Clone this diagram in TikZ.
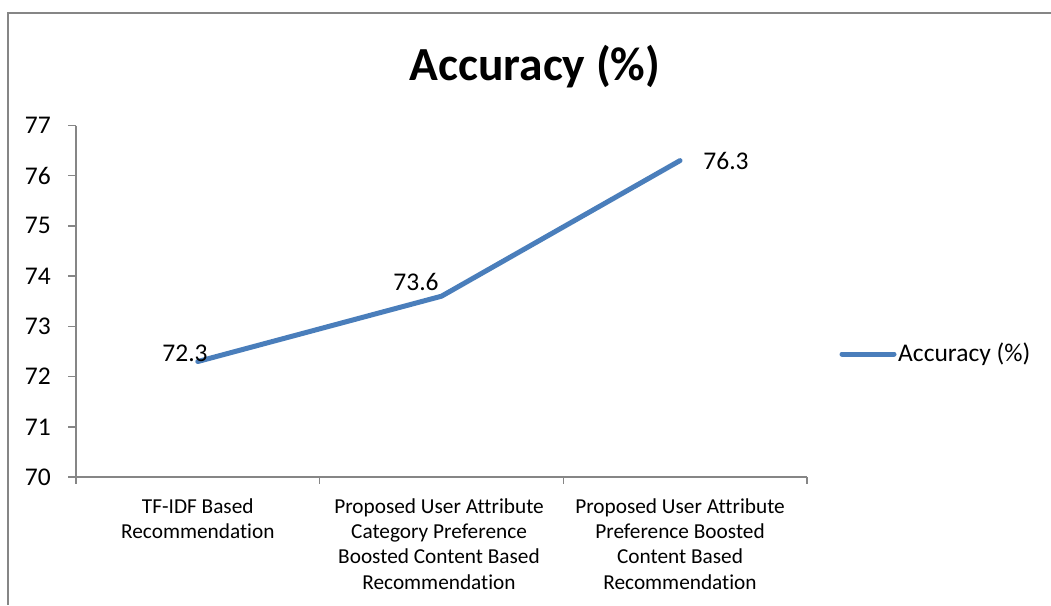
\documentclass[tikz,border=0pt]{standalone}
\usepackage{fontspec}
\setmainfont{Carlito}[Ligatures=NoCommon]
\usetikzlibrary{arrows,shapes}
\definecolor{acccolor}{HTML}{4A7EBB}
\definecolor{axisgray}{HTML}{868686}
\tikzstyle{frame}=[draw,axisgray,line width=2pt]
\tikzstyle{axis}=[draw,axisgray,line width=1.5pt]
\tikzstyle{curve}=[draw,acccolor,line width=5pt,line cap=round,line join=round]
\tikzstyle{ticklabel}=[anchor=east,inner sep=0pt,font=\fontsize{25.5}{30}\selectfont]
\tikzstyle{datalabel}=[inner sep=0pt,font=\fontsize{25.5}{30}\selectfont]
\tikzstyle{catlabel}=[anchor=north,align=center,inner sep=0pt,font=\fontsize{21.3}{25.2}\selectfont]

\begin{document}
\begin{tikzpicture}[x=1pt,y=-1pt]
        \useasboundingbox (0,0) rectangle (1051,605);
        % chart frame (runs off the right and bottom)
        \coordinate (frbr) at (1051,12.5);
        \coordinate (frtl) at (7.5,12.5);
        \coordinate (frbl) at (7.5,605);
        \draw[frame] (frbr) -- (frtl) -- (frbl);

        \node[font=\fontsize{47.5}{56}\selectfont\bfseries] (title) at (535,67) {Accuracy (\%)};

        % axes
        \coordinate (origin) at (76,477);
        \coordinate (ytop) at (76,125.5);
        \coordinate (xend) at (807,477);
        \draw[axis] (ytop) -- (origin) -- (xend);

        \coordinate (t77) at (68,125.5);
        \coordinate (t76) at (68,175.7);
        \coordinate (t75) at (68,225.9);
        \coordinate (t74) at (68,276.1);
        \coordinate (t73) at (68,326.4);
        \coordinate (t72) at (68,376.6);
        \coordinate (t71) at (68,426.8);
        \coordinate (t70) at (68,477);
        \draw[axis] (t77) -- +(8,0);
        \draw[axis] (t76) -- +(8,0);
        \draw[axis] (t75) -- +(8,0);
        \draw[axis] (t74) -- +(8,0);
        \draw[axis] (t73) -- +(8,0);
        \draw[axis] (t72) -- +(8,0);
        \draw[axis] (t71) -- +(8,0);
        \draw[axis] (t70) -- +(8,0);
        \node[ticklabel] (l77) at (51,125.5) {77};
        \node[ticklabel] (l76) at (51,175.7) {76};
        \node[ticklabel] (l75) at (51,225.9) {75};
        \node[ticklabel] (l74) at (51,276.1) {74};
        \node[ticklabel] (l73) at (51,326.4) {73};
        \node[ticklabel] (l72) at (51,376.6) {72};
        \node[ticklabel] (l71) at (51,426.8) {71};
        \node[ticklabel] (l70) at (51,477) {70};

        \coordinate (c0) at (76,477);
        \coordinate (c1) at (319.7,477);
        \coordinate (c2) at (563.3,477);
        \coordinate (c3) at (807,477);
        \draw[axis] (c0) -- +(0,7);
        \draw[axis] (c1) -- +(0,7);
        \draw[axis] (c2) -- +(0,7);
        \draw[axis] (c3) -- +(0,7);

        \node[catlabel] (cat1) at (197.8,498.5) {TF-IDF Based\\Recommendation};
        \node[catlabel] (cat2) at (439,498.5) {Proposed User Attribute\\Category Preference\\Boosted Content Based\\Recommendation};
        \node[catlabel] (cat3) at (680,498.5) {Proposed User Attribute\\Preference Boosted\\Content Based\\Recommendation};

        % data
        \coordinate (p1) at (197.8,361.5);
        \coordinate (p2) at (441.5,296.2);
        \coordinate (p3) at (680,160.6);
        \draw[curve] (p1) -- (p2) -- (p3);
        \node[datalabel] (v1) at (185,353) {72.3};
        \node[datalabel] (v2) at (416,282) {73.6};
        \node[datalabel] (v3) at (726,161) {76.3};

        % legend
        \coordinate (lg1) at (842,354);
        \coordinate (lg2) at (894,354);
        \draw[curve] (lg1) -- (lg2);
        \node[datalabel,anchor=west] (legend) at (898,354) {Accuracy (\%)};
\end{tikzpicture}
\end{document}
